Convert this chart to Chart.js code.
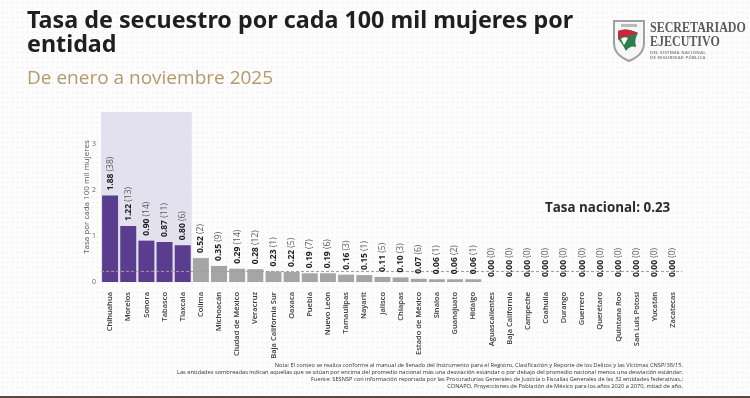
<!DOCTYPE html>
<html>
<head>
<meta charset="utf-8">
<script src="https://cdn.jsdelivr.net/npm/chart.js@4/dist/chart.umd.min.js"></script>
<style>
  html, body { margin: 0; padding: 0; }
  body { width: 750px; height: 398px; position: relative; overflow: hidden; background-color: #fdfdfd; background-image: radial-gradient(#f3f3f3 0.9px, transparent 1.2px); background-size: 5px 5px; font-family: "Open Sans", sans-serif; }
  #chartBox { position: absolute; left: 0; top: 0; width: 750px; height: 398px; }
  .title { position: absolute; left: 27px; top: 7px; font-family: "Noto Sans", sans-serif; font-weight: 700; font-size: 23.3px; line-height: 24px; color: #1f1f1f; width: 580px; }
  .subtitle { position: absolute; left: 27px; top: 64px; font-size: 19px; color: #b3996f; }
  .nacional { position: absolute; left: 545px; top: 198px; font-weight: 700; font-size: 13.4px; color: #2b2b2b; }
  .note { position: absolute; right: 67px; top: 362px; font-size: 5.7px; line-height: 7px; text-align: right; color: #333; white-space: nowrap; }
  .logo { position: absolute; left: 612px; top: 17px; }
  .logo .t1, .logo .t2 { position: absolute; left: 38px; font-family: "Liberation Serif", serif; font-weight: 700; font-size: 15px; color: #5a5a5a; transform: scaleX(0.8); transform-origin: left top; white-space: nowrap; }
  .logo .t1 { top: 2px; }
  .logo .t2 { top: 16px; }
  .logo .t3 { position: absolute; left: 38px; top: 33px; font-size: 4.2px; line-height: 5px; font-weight: 700; letter-spacing: 0.3px; color: #888; white-space: nowrap; }
  .bottomLine { position: absolute; left: 0; bottom: 0; width: 750px; height: 2px; background: #5d4944; }
</style>
</head>
<body>
<div id="chartBox"><canvas id="rateChart" width="750" height="398"></canvas></div>
<div class="title">Tasa de secuestro por cada 100 mil mujeres por entidad</div>
<div class="subtitle">De enero a noviembre 2025</div>
<div class="nacional" id="nacional"></div>
<div class="logo">
  <svg width="34" height="46" viewBox="0 0 34 46">
    <path d="M2 4 L32 4 L32 26 Q32 38 17 44 Q2 38 2 26 Z" fill="#f6f6f6" stroke="#a0a0a0" stroke-width="2"/>
    <path d="M6 14 Q14 10 26 16 Q22 22 24 30 Q18 28 14 34 Q10 26 6 22 Z" fill="#2f7d4a"/>
    <path d="M6 14 Q14 10 26 16 Q20 17 16 20 Q10 18 6 22 Z" fill="#c8283a"/>
    <path d="M9 22 Q12 19 16 21 Q14 25 12 28 Z" fill="#ffffff"/>
    <rect x="9" y="7" width="16" height="3" fill="#bbb"/>
  </svg>
  <div class="t1">SECRETARIADO</div>
  <div class="t2">EJECUTIVO</div>
  <div class="t3">DEL SISTEMA NACIONAL<br>DE SEGURIDAD PÚBLICA</div>
</div>
<div class="note">
  Nota: El conteo se realiza conforme al manual de llenado del Instrumento para el Registro, Clasificación y Reporte de los Delitos y las Víctimas CNSP/38/15.<br>
  Las entidades sombreadas indican aquellas que se sitúan por encima del promedio nacional más una desviación estándar o por debajo del promedio nacional menos una desviación estándar.<br>
  Fuente: SESNSP con información reportada por las Procuradurías Generales de Justicia o Fiscalías Generales de las 32 entidades federativas.;<br>
  CONAPO, Proyecciones de Población de México para los años 2020 a 2070, mitad de año.
</div>
<div class="bottomLine"></div>
<script>
var entidades = ["Chihuahua", "Morelos", "Sonora", "Tabasco", "Tlaxcala", "Colima", "Michoacán", "Ciudad de México", "Veracruz", "Baja California Sur", "Oaxaca", "Puebla", "Nuevo León", "Tamaulipas", "Nayarit", "Jalisco", "Chiapas", "Estado de México", "Sinaloa", "Guanajuato", "Hidalgo", "Aguascalientes", "Baja California", "Campeche", "Coahuila", "Durango", "Guerrero", "Querétaro", "Quintana Roo", "San Luis Potosí", "Yucatán", "Zacatecas"];
var tasas = [1.88, 1.22, 0.90, 0.87, 0.80, 0.52, 0.35, 0.29, 0.28, 0.23, 0.22, 0.19, 0.19, 0.16, 0.15, 0.11, 0.10, 0.07, 0.06, 0.06, 0.06, 0, 0, 0, 0, 0, 0, 0, 0, 0, 0, 0];
var victimas = [38, 13, 14, 11, 6, 2, 9, 14, 12, 1, 5, 7, 6, 3, 1, 5, 3, 6, 1, 2, 1, 0, 0, 0, 0, 0, 0, 0, 0, 0, 0, 0];
var sombreadas = 5;
var tasaNacional = 0.23;
var yTicks = [0, 1, 2, 3];

document.getElementById("nacional").textContent = "Tasa nacional: " + tasaNacional.toFixed(2);

var colores = tasas.map(function (v, i) { return i < sombreadas ? "#5a3d8f" : "#a5a5a5"; });

var fondoPlugin = {
    id: "fondo",
    beforeDatasetsDraw: function (chart) {
        var ctx = chart.ctx;
        var x = chart.scales.x;
        var area = chart.chartArea;
        var half = (x.getPixelForValue(1) - x.getPixelForValue(0)) / 2;
        var x0 = x.getPixelForValue(0) - half;
        var x1 = x.getPixelForValue(sombreadas - 1) + half;
        ctx.save();
        ctx.fillStyle = "#e3e1ee";
        ctx.fillRect(x0, area.top, x1 - x0, area.bottom - area.top);
        ctx.restore();
    },
    afterDatasetsDraw: function (chart) {
        var ctx = chart.ctx;
        var area = chart.chartArea;
        var yPix = chart.scales.y.getPixelForValue(tasaNacional);
        ctx.save();
        ctx.strokeStyle = "#9d9d9d";
        ctx.lineWidth = 1;
        ctx.setLineDash([3, 2]);
        ctx.beginPath();
        ctx.moveTo(area.left, yPix);
        ctx.lineTo(area.right, yPix);
        ctx.stroke();
        ctx.setLineDash([]);

        var meta = chart.getDatasetMeta(0);
        meta.data.forEach(function (bar, i) {
            var valor = tasas[i].toFixed(2);
            var cuenta = " (" + victimas[i] + ")";
            ctx.save();
            ctx.translate(bar.x, bar.y - 5);
            ctx.rotate(-Math.PI / 2);
            ctx.textAlign = "left";
            ctx.textBaseline = "middle";
            ctx.font = "bold 8.5px 'Open Sans'";
            ctx.fillStyle = "#1e1e1e";
            ctx.fillText(valor, 0, 0);
            var w = ctx.measureText(valor).width;
            ctx.font = "8.5px 'Open Sans'";
            ctx.fillStyle = "#5a5a5a";
            ctx.fillText(cuenta, w, 0);
            ctx.restore();
        });
        ctx.restore();
    }
};

var rateChart = new Chart(document.getElementById("rateChart"), {
    type: "bar",
    data: {
        labels: entidades,
        datasets: [{
            label: "Tasa",
            data: tasas,
            backgroundColor: colores,
            borderWidth: 0,
            barPercentage: 0.88,
            categoryPercentage: 1.0
        }]
    },
    options: {
        responsive: false,
        animation: false,
        layout: {
            padding: { left: 82, top: 112, right: 68, bottom: 0 }
        },
        plugins: {
            legend: { display: false },
            tooltip: { enabled: false }
        },
        scales: {
            x: {
                grid: { display: false },
                border: { display: false },
                ticks: {
                    autoSkip: false,
                    minRotation: 90,
                    maxRotation: 90,
                    padding: 2,
                    color: "#3a3a3a",
                    font: { family: "Open Sans", size: 7.5, weight: "600" }
                },
                afterFit: function (scale) { scale.height = 116; }
            },
            y: {
                min: 0,
                max: 3.7,
                grid: { display: false, drawTicks: false },
                border: { display: false },
                title: {
                    display: true,
                    text: "Tasa por cada 100 mil mujeres",
                    color: "#555",
                    padding: 0,
                    font: { family: "Open Sans", size: 8 }
                },
                ticks: {
                    stepSize: 1,
                    padding: 5,
                    color: "#666",
                    font: { family: "Open Sans", size: 7 }
                },
                afterBuildTicks: function (scale) {
                    scale.ticks = yTicks.map(function (v) { return { value: v }; });
                },
                afterFit: function (scale) { scale.width = 19; }
            }
        }
    },
    plugins: [fondoPlugin]
});
</script>
</body>
</html>
